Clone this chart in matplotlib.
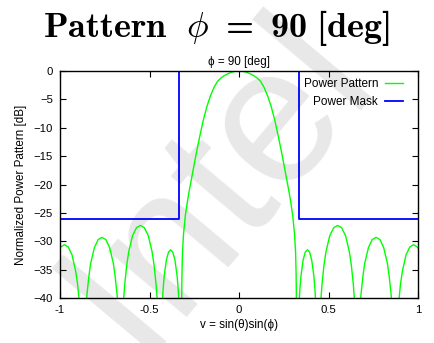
import matplotlib
matplotlib.use("Agg")
import matplotlib.pyplot as plt

plt.rcParams['font.family'] = ['Liberation Sans', 'DejaVu Sans']
# Computer Modern bold for the big heading
plt.rcParams['mathtext.fontset'] = 'custom'
plt.rcParams['mathtext.rm'] = 'cmb10'
plt.rcParams['mathtext.bf'] = 'cmb10'
plt.rcParams['mathtext.it'] = 'cmmi10'

# power pattern samples [v, dB]; nulls set well below the plotted range
v = [-1.000, -0.996, -0.975, -0.954, -0.933, -0.913, -0.902, -0.892, -0.886, -0.879, -0.871,
     -0.863, -0.856, -0.850, -0.839, -0.829, -0.808, -0.787, -0.766, -0.744, -0.723, -0.702,
     -0.692, -0.681, -0.675, -0.668, -0.660,
     -0.651, -0.645, -0.638, -0.627, -0.616, -0.595, -0.573, -0.551, -0.529, -0.507, -0.486,
     -0.475, -0.464, -0.457, -0.451, -0.442,
     -0.437, -0.434, -0.430, -0.424, -0.418, -0.406, -0.394, -0.382, -0.370, -0.358, -0.346,
     -0.340, -0.334, -0.330, -0.327, -0.322,
     -0.321, -0.319, -0.316, -0.310, -0.300, -0.290, -0.280, -0.260, -0.240, -0.220, -0.200,
     -0.180, -0.160, -0.140, -0.120, -0.100, -0.080, -0.060, -0.040, -0.020, 0.000,
     0.020, 0.040, 0.060, 0.080, 0.100, 0.120, 0.140, 0.160, 0.180, 0.200, 0.220, 0.240,
     0.260, 0.280, 0.290, 0.300, 0.310, 0.316, 0.319, 0.321,
     0.322, 0.327, 0.330, 0.334, 0.340, 0.346, 0.358, 0.370, 0.382, 0.394, 0.406, 0.418,
     0.424, 0.430, 0.434, 0.437,
     0.442, 0.451, 0.457, 0.464, 0.475, 0.486, 0.507, 0.529, 0.551, 0.573, 0.595, 0.616,
     0.627, 0.638, 0.645, 0.651,
     0.660, 0.668, 0.675, 0.681, 0.692, 0.702, 0.723, 0.744, 0.766, 0.787, 0.808, 0.829,
     0.839, 0.850, 0.856, 0.863,
     0.871, 0.879, 0.886, 0.892, 0.902, 0.913, 0.933, 0.954, 0.975, 0.996, 1.000]
power_db = [-31.2, -31.0, -30.6, -31.0, -32.4, -35.2, -37.5, -40.8, -43.8, -48.6, -60.0,
            -47.3, -42.5, -39.5, -36.2, -33.9, -31.1, -29.7, -29.3, -29.7, -31.1, -33.9,
            -36.2, -39.5, -42.5, -47.3, -60.0,
            -45.2, -40.4, -37.4, -34.1, -31.8, -29.0, -27.6, -27.2, -27.6, -29.0, -31.8,
            -34.1, -37.4, -40.4, -45.2, -60.0,
            -49.5, -44.7, -41.7, -38.4, -36.1, -33.3, -31.9, -31.5, -31.9, -33.3, -36.1,
            -38.4, -41.7, -44.7, -49.5, -60.0,
            -42.0, -36.0, -32.0, -28.7, -25.5, -23.3, -21.4, -18.0, -14.7, -11.6, -8.7,
            -6.3, -4.4, -2.9, -1.8, -1.2, -0.78, -0.45, -0.2, -0.05, 0.0,
            -0.05, -0.2, -0.45, -0.78, -1.2, -1.8, -2.9, -4.4, -6.3, -8.7, -11.6, -14.7,
            -18.0, -21.4, -23.3, -25.5, -28.7, -32.0, -36.0, -42.0,
            -60.0, -49.5, -44.7, -41.7, -38.4, -36.1, -33.3, -31.9, -31.5, -31.9, -33.3, -36.1,
            -38.4, -41.7, -44.7, -49.5,
            -60.0, -45.2, -40.4, -37.4, -34.1, -31.8, -29.0, -27.6, -27.2, -27.6, -29.0, -31.8,
            -34.1, -37.4, -40.4, -45.2,
            -60.0, -47.3, -42.5, -39.5, -36.2, -33.9, -31.1, -29.7, -29.3, -29.7, -31.1, -33.9,
            -36.2, -39.5, -42.5, -47.3,
            -60.0, -48.6, -43.8, -40.8, -37.5, -35.2, -32.4, -31.0, -30.6, -31.0, -31.2]

# mask corners
mask_v = [-1.0, -0.335, -0.335, 0.335, 0.335, 1.0]
mask_db = [-26.0, -26.0, 0.0, 0.0, -26.0, -26.0]

x_ticks = [-1, -0.5, 0, 0.5, 1]
x_tick_labels = ['-1', '-0.5', '0', '0.5', '1']
y_ticks = [0, -5, -10, -15, -20, -25, -30, -35, -40]

fig = plt.figure(figsize=(4.35, 3.43), dpi=100)
ax = fig.add_axes([0.138, 0.131, 0.823, 0.662])
ax.set_facecolor('none')

fig.text(0.50, 0.47, 'Intel', fontsize=140, color='#e8e8e8',
         rotation=50, ha='center', va='center', zorder=-5)

ax.plot(v, power_db, color='#00ff00', lw=1.0, label='Power Pattern')
ax.plot(mask_v, mask_db, color='#0000ff', lw=1.3, label='Power Mask')

ax.set_xlim(-1, 1)
ax.set_ylim(-40, 0)
ax.set_xticks(x_ticks)
ax.set_xticklabels(x_tick_labels)
ax.set_yticks(y_ticks)
ax.tick_params(direction='in', length=4, width=0.8, labelsize=8.2,
               top=True, right=True, pad=5)
for s in ax.spines.values():
    s.set_linewidth(1.0)

ax.set_xlabel('v = sin(\u03b8)sin(\u03d5)', fontsize=8.4, labelpad=3)
ax.set_ylabel('Normalized Power Pattern [dB]', fontsize=8.4, labelpad=5)
ax.set_title('\u03d5 = 90 [deg]', fontsize=8.4, pad=4)

ax.legend(loc='upper right', bbox_to_anchor=(0.971, 0.99), borderaxespad=0,
          frameon=False, markerfirst=False, alignment='right',
          fontsize=8.5, handlelength=1.5, labelspacing=0.55, handletextpad=0.6)

fig.suptitle(r'$\mathrm{Pattern}\ \ \phi\ =\ \mathrm{90\ [deg]}$', fontsize=26,
             x=0.498, y=0.978, va='top')

fig.savefig('out.png', dpi=100)
